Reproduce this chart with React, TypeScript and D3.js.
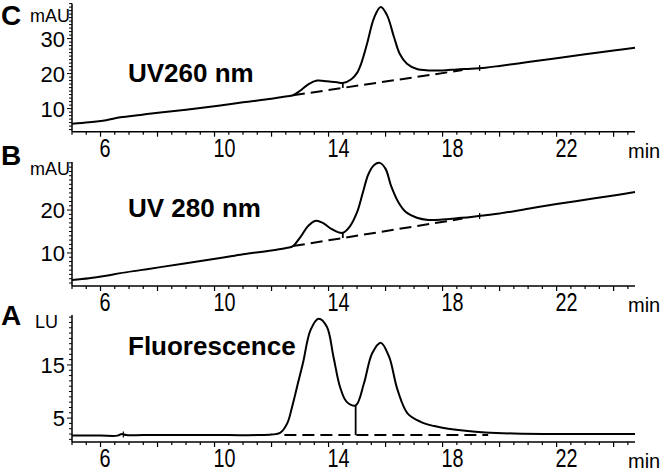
import React from "react";
import * as d3 from "d3";

type Pt = [number, number];

// traces: [time (min), signal]
const uv260Trace: Pt[] = [
  [5.0, 5.7], [5.6, 6.1], [6.2, 6.7], [6.7, 7.5], [7.4, 8.2], [8.1, 8.9],
  [9.0, 9.7], [10.2, 10.9], [11.0, 11.8], [12.0, 12.8], [12.55, 13.5],
  [12.75, 13.8], [13.0, 15.1], [13.3, 17.0], [13.6, 18.0], [13.95, 17.8],
  [14.3, 17.5], [14.5, 17.3], [14.8, 18.4], [15.0, 20.2], [15.15, 23.0],
  [15.35, 28.5], [15.6, 36.0], [15.83, 39.0], [16.05, 36.7], [16.3, 30.3],
  [16.5, 25.6], [16.75, 22.8], [17.1, 21.3], [17.5, 20.9], [18.0, 20.9],
  [18.5, 21.2], [19.0, 21.4], [19.5, 21.7], [20.0, 22.2], [21.0, 23.3],
  [22.0, 24.4], [23.0, 25.5], [24.0, 26.6], [24.75, 27.4],
];

const uv280Trace: Pt[] = [
  [5.0, 3.7], [5.6, 4.1], [6.2, 4.7], [6.7, 5.3], [7.4, 6.0], [8.1, 6.7],
  [9.0, 7.6], [10.2, 8.8], [11.0, 9.7], [12.0, 10.6], [12.55, 11.2],
  [12.75, 11.6], [13.0, 13.6], [13.3, 16.4], [13.55, 17.5], [13.8, 17.0],
  [14.1, 15.6], [14.35, 14.8], [14.5, 14.7], [14.75, 16.2], [15.0, 19.5],
  [15.2, 24.0], [15.4, 28.4], [15.6, 30.5], [15.8, 31.0], [16.0, 29.6],
  [16.2, 25.5], [16.45, 21.8], [16.7, 19.6], [17.1, 18.2], [17.5, 17.7],
  [18.0, 17.8], [18.5, 18.1], [19.0, 18.4], [19.5, 18.8], [20.0, 19.2],
  [21.0, 20.3], [22.0, 21.4], [23.0, 22.4], [24.0, 23.4], [24.75, 24.2],
];

const fluorTrace: Pt[] = [
  [5.0, 1.7], [6.0, 1.7], [6.6, 1.7], [6.75, 2.0], [6.9, 1.8], [7.5, 1.8],
  [9.0, 1.8], [10.5, 1.8], [11.5, 1.8], [12.0, 1.9], [12.3, 2.2],
  [12.55, 4.0], [12.72, 7.1], [12.9, 11.0], [13.1, 15.3], [13.37, 21.6],
  [13.65, 23.7], [13.94, 22.2], [14.17, 16.6], [14.4, 10.9], [14.63, 8.1],
  [14.95, 7.4], [15.24, 11.5], [15.53, 17.2], [15.83, 19.2], [16.12, 16.6],
  [16.42, 10.3], [16.77, 5.9], [17.23, 4.3], [17.7, 3.5], [18.2, 3.0],
  [18.8, 2.6], [19.5, 2.3], [20.5, 2.1], [22.0, 2.0], [23.5, 2.0],
  [24.75, 2.0],
];

// dashed integration baselines
const uv260Baseline: Pt[] = [[12.75, 13.8], [18.7, 21.0]];
const uv280Baseline: Pt[] = [[12.75, 11.6], [18.7, 18.0]];
const fluorBaseline: Pt[] = [[12.45, 1.8], [19.6, 1.8]];

// peak split (drop line) and integration event marks
const dropTimes = { uv260: 14.5, uv280: 14.5, fluor: 14.95 };
const markerTimes = { uv260: [19.3], uv280: [19.3], fluor: [6.8] };

const xTickLabels = [6, 10, 14, 18, 22];
const uv260Ticks = [10, 20, 30];
const uv280Ticks = [10, 20];
const fluorTicks = [5, 15];

const FONT = "'Liberation Sans', Arial, Helvetica, sans-serif";
const W = 664;
const H = 472;

const x = d3.scaleLinear().domain([5, 24.75]).range([72, 635]);

const panels = [
  {
    key: "C", unit: "mAU", title: "UV260 nm", trace: uv260Trace, base: uv260Baseline,
    drop: dropTimes.uv260, markers: markerTimes.uv260, ticks: uv260Ticks,
    yDomain: [3.4, 40], yRange: [131.7, 3.6],
    letterY: 25, unitX: 30, unitY: 22, titleY: 82, labelY: 157,
  },
  {
    key: "B", unit: "mAU", title: "UV 280 nm", trace: uv280Trace, base: uv280Baseline,
    drop: dropTimes.uv280, markers: markerTimes.uv280, ticks: uv280Ticks,
    yDomain: [2.3, 31.2], yRange: [286, 162],
    letterY: 165, unitX: 30, unitY: 175, titleY: 217, labelY: 311,
  },
  {
    key: "A", unit: "LU", title: "Fluorescence", trace: fluorTrace, base: fluorBaseline,
    drop: dropTimes.fluor, markers: markerTimes.fluor, ticks: fluorTicks,
    yDomain: [0.5, 24.4], yRange: [442, 315],
    letterY: 325, unitX: 35, unitY: 328, titleY: 355, labelY: 467,
  },
];

function valueAt(trace: Pt[], t: number) {
  const i = d3.bisector((d: Pt) => d[0]).left(trace, t);
  if (i <= 0) return trace[0][1];
  if (i >= trace.length) return trace[trace.length - 1][1];
  const a = trace[i - 1], b = trace[i];
  return a[1] + ((t - a[0]) / (b[0] - a[0])) * (b[1] - a[1]);
}

function Panel({ p }: { p: (typeof panels)[number] }) {
  const y = d3.scaleLinear().domain(p.yDomain).range(p.yRange);
  const line = d3
    .line<Pt>()
    .x(d => x(d[0]))
    .y(d => y(d[1]))
    .curve(d3.curveCatmullRom.alpha(0.5));
  const y0 = p.yRange[0];
  const minorX = d3.range(5, 24.76, 0.5);
  const minorY = d3.range(Math.ceil(p.yDomain[0]), Math.floor(p.yDomain[1]) + 1, 1);
  const baseAt = (t: number) =>
    p.base[0][1] + ((t - p.base[0][0]) / (p.base[1][0] - p.base[0][0])) * (p.base[1][1] - p.base[0][1]);

  return (
    <g>
      {/* axes */}
      <line x1={x(5)} x2={x(24.75)} y1={y0} y2={y0} stroke="#000" strokeWidth={1.5} />
      <line x1={x(5)} x2={x(5)} y1={y0} y2={p.yRange[1]} stroke="#000" strokeWidth={1.5} />
      {minorX.map(t => (
        <line key={t} x1={x(t)} x2={x(t)} y1={y0} y2={y0 + (t % 2 === 0 ? 5 : 3)}
          stroke="#000" strokeWidth={1.2} />
      ))}
      {minorY.map(v => (
        <line key={v} x1={x(5)} x2={x(5) - (p.ticks.includes(v) ? 5 : 3)} y1={y(v)} y2={y(v)}
          stroke="#000" strokeWidth={1} />
      ))}
      {xTickLabels.map(t => (
        <text key={t} transform={`translate(${x(t) - 1},${p.labelY}) scale(0.9,1.2)`}
          fontSize={22} fontFamily={FONT}>{t}</text>
      ))}
      <text x={628} y={p.labelY + 1} fontSize={20} fontFamily={FONT}>min</text>
      {p.ticks.map(v => (
        <text key={v} x={65} y={y(v)} dy="0.36em" textAnchor="end" fontSize={22}
          fontFamily={FONT}>{v}</text>
      ))}
      <text x={30 + (p.unitX - 30)} y={p.unitY} fontSize={18} fontFamily={FONT}>{p.unit}</text>
      <text x={1} y={p.letterY} fontSize={28} fontWeight="bold" fontFamily={FONT}>{p.key}</text>
      <text x={128} y={p.titleY} fontSize={26} fontWeight="bold" fontFamily={FONT}>{p.title}</text>

      {/* integration baseline and drop line */}
      <path d={d3.line<Pt>().x(d => x(d[0])).y(d => y(d[1]))(p.base) ?? ""}
        fill="none" stroke="#000" strokeWidth={2} strokeDasharray="12,6" />
      <line x1={x(p.drop)} x2={x(p.drop)} y1={y(valueAt(p.trace, p.drop))} y2={y(baseAt(p.drop))}
        stroke="#000" strokeWidth={1.8} />
      {p.markers.map(t => (
        <line key={t} x1={x(t)} x2={x(t)} y1={y(valueAt(p.trace, t)) - 3} y2={y(valueAt(p.trace, t)) + 3}
          stroke="#000" strokeWidth={1.2} />
      ))}

      <path d={line(p.trace) ?? ""} fill="none" stroke="#000" strokeWidth={2} />
    </g>
  );
}

export default function App() {
  return (
    <>
      <style>{`body{margin:0}`}</style>
      <svg width={W} height={H} style={{ display: "block", background: "#fff" }}>
        {panels.map(p => (
          <Panel key={p.key} p={p} />
        ))}
      </svg>
    </>
  );
}
